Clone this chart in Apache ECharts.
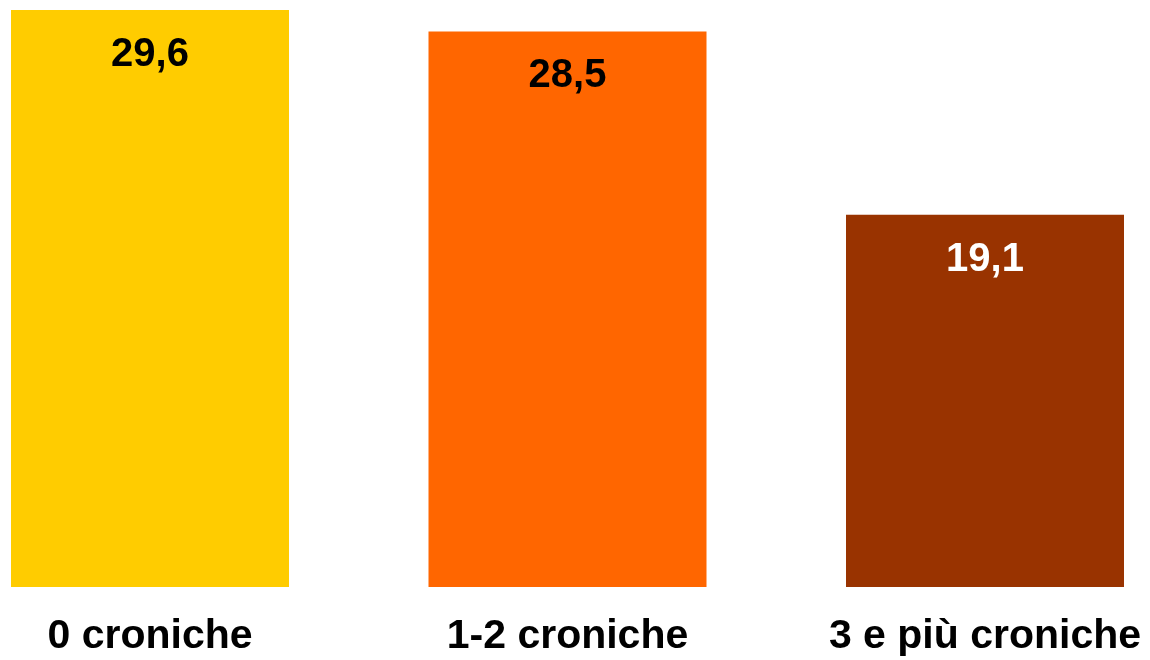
<!DOCTYPE html>
<html>
<head>
<meta charset="utf-8">
<script src="https://cdn.jsdelivr.net/npm/echarts@6/dist/echarts.min.js"></script>
<style>
  html, body { margin: 0; padding: 0; background: #fff; }
  #container { width: 1150px; height: 660px; }
</style>
</head>
<body>
<div id="container"></div>
<script>
var categories = ['0 croniche', '1-2 croniche', '3 e più croniche'];
var values = [29.6, 28.5, 19.1];
var barColors = ['#FFCC00', '#FF6600', '#993300'];
var labelColors = ['#000000', '#000000', '#FFFFFF'];

var myChart = echarts.init(document.getElementById('container'));

// boundaryGap false puts the category ticks at the bar centres
var option = {
    animation: false,
    grid: { left: 150, right: 165, top: 10, bottom: 73, containLabel: false },
    xAxis: {
        type: 'category',
        data: categories,
        boundaryGap: false,
        axisLine: { show: false },
        axisTick: { show: false },
        splitLine: { show: false },
        axisLabel: {
            margin: 29,
            fontFamily: 'Liberation Sans, Arial, sans-serif',
            fontWeight: 'bold',
            fontSize: 41,
            color: '#000'
        }
    },
    yAxis: {
        type: 'value',
        min: 0,
        max: 29.6,
        show: false,
        splitLine: { show: false }
    },
    series: [{
        type: 'bar',
        barWidth: 278,
        clip: false,
        data: values.map(function (v, i) {
            return {
                value: v,
                itemStyle: { color: barColors[i] },
                label: { color: labelColors[i] }
            };
        }),
        label: {
            show: true,
            position: 'insideTop',
            distance: 25,
            fontFamily: 'Liberation Sans, Arial, sans-serif',
            fontWeight: 'bold',
            fontSize: 40,
            formatter: function (p) { return String(p.value).replace('.', ','); }
        }
    }]
};

myChart.setOption(option);
</script>
</body>
</html>
